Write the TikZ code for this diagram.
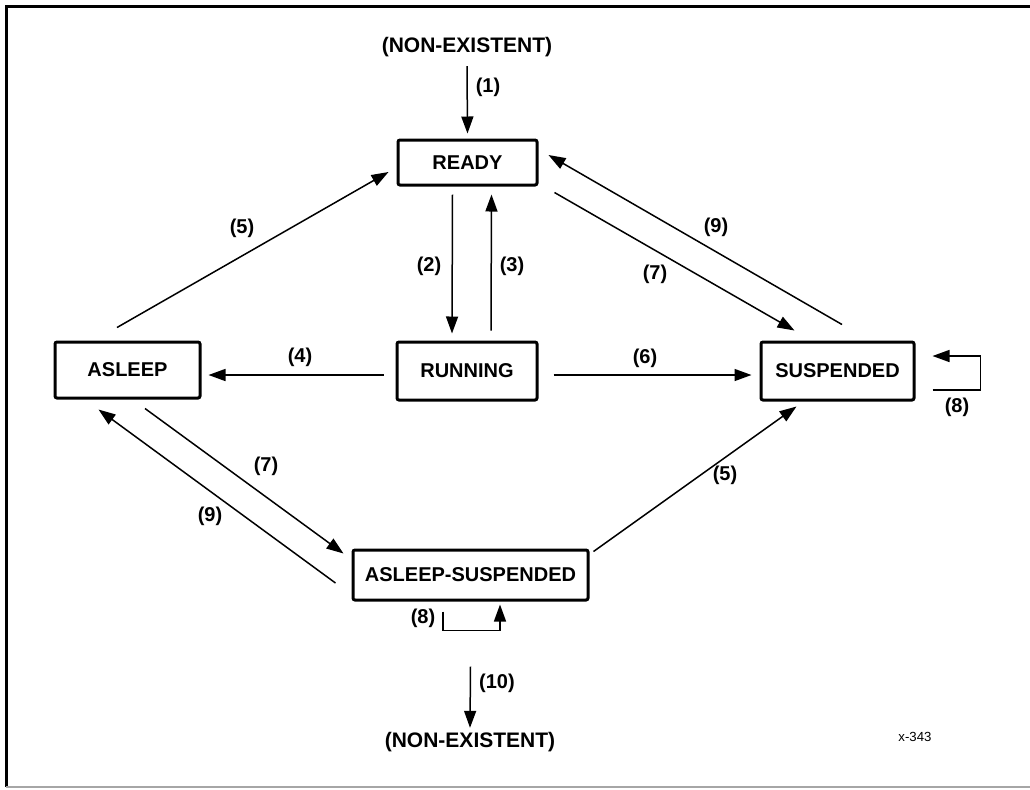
\documentclass[tikz,border=0pt]{standalone}
\usepackage{fontspec}
\setmainfont{Liberation Sans}
\usetikzlibrary{arrows.meta,positioning,calc}

\begin{document}
\begin{tikzpicture}[
    x=0.5pt, y=0.5pt,
    statebox/.style={draw=black, line width=1.5pt, rounded corners=1pt, fill=white, inner sep=0pt, font=\fontsize{10}{12}\selectfont\bfseries},
    lbl/.style={inner sep=1pt, font=\fontsize{10}{12}\selectfont\bfseries},
    endtxt/.style={inner sep=2pt, font=\fontsize{10.5}{12}\selectfont\bfseries},
    arr/.style={line width=0.75pt, -{Triangle[length=8.5pt, width=6pt]}}
]

  % Fundo e moldura
  \useasboundingbox (0,0) rectangle (1030,-789);
  \draw[line width=1.5pt] (1030,-6) -- (6,-6) -- (6,-787);
  \draw[line width=0.8pt, gray!70] (6,-787) -- (1030,-787);

  % =========================================================================
  % ESTADOS
  % =========================================================================
  \node[endtxt] (ne_top) at (467,-47) {(NON-EXISTENT)};
  \node[statebox, minimum width=69.5pt, minimum height=22.5pt] (st_ready) at (467.5,-162.5) {READY};
  \node[statebox, minimum width=70pt, minimum height=29pt] (st_run) at (467,-371) {RUNNING};
  \node[statebox, minimum width=72.5pt, minimum height=28pt] (st_sleep) at (127.5,-370) {ASLEEP};
  \node[statebox, minimum width=76.5pt, minimum height=29pt] (st_susp) at (837.5,-371) {SUSPENDED};
  \node[statebox, minimum width=117.5pt, minimum height=25pt] (st_slsusp) at (470.5,-575) {ASLEEP-SUSPENDED};
  \node[endtxt] (ne_bot) at (470,-742) {(NON-EXISTENT)};
  \node[inner sep=0pt, font=\fontsize{6.6}{8}\selectfont] (fig_id) at (915,-737) {x-343};

  % =========================================================================
  % TRANSICOES
  % =========================================================================
  \draw[arr] ($(ne_top.south)+(0,-5)$) -- ($(st_ready.north)+(0,5)$);
  \draw[arr] ($(st_ready.south)+(-15,-8)$) -- ($(st_run.north)+(-15,7)$);
  \draw[arr] ($(st_run.north)+(24,10)$) -- ($(st_ready.south)+(24,-8)$);
  \draw[arr] ($(st_run.west)+(-12,-4)$) -- ($(st_sleep.east)+(7,-5)$);
  \draw[arr] ($(st_run.east)+(15,-4)$) -- ($(st_susp.west)+(-8,-4)$);
  \draw[arr] ($(st_sleep.north)+(-10.5,13)$) -- ($(st_ready.west)+(-8,-9.5)$);
  \draw[arr] ($(st_susp.north)+(4.5,16)$) -- ($(st_ready.east)+(10,7.5)$);
  \draw[arr] ($(st_ready.south east)+(16,-6)$) -- ($(st_susp.north west)+(35,10)$);
  \draw[arr] ($(st_susp.east)+(17,-19)$) -| ($(st_susp.east)+(65,15)$) -- ($(st_susp.east)+(17,15)$);
  \draw[arr] ($(st_sleep.south)+(17.5,-9)$) -- ($(st_slsusp.north west)+(-8,-5)$);
  \draw[arr] ($(st_slsusp.west)+(-16,-8)$) -- ($(st_sleep.south west)+(45,-10)$);
  \draw[arr] ($(st_slsusp.north east)+(4,-3)$) -- ($(st_susp.south west)+(37,-5)$);
  \draw[arr] ($(st_slsusp.south)+(-27.5,-10)$) |- ($(st_slsusp.south)+(29.5,-29)$) -- ($(st_slsusp.south)+(29.5,-3)$);
  \draw[arr] ($(st_slsusp.south)+(0,-65)$) -- (ne_bot.north);

  % Rotulos
  \node[lbl] (l1) at (488,-87) {(1)};
  \node[lbl] (l2) at (429,-266) {(2)};
  \node[lbl] (l3) at (512,-266) {(3)};
  \node[lbl] (l4) at (300,-357) {(4)};
  \node[lbl] (l5a) at (242,-228) {(5)};
  \node[lbl] (l6) at (645,-358) {(6)};
  \node[lbl] (l7a) at (655,-274) {(7)};
  \node[lbl] (l8a) at (957,-407) {(8)};
  \node[lbl] (l9a) at (716,-227) {(9)};
  \node[lbl] (l7b) at (266,-466) {(7)};
  \node[lbl] (l9b) at (210,-516) {(9)};
  \node[lbl] (l5b) at (725,-475) {(5)};
  \node[lbl] (l8b) at (423,-618) {(8)};
  \node[lbl] (l10) at (497,-683) {(10)};

\end{tikzpicture}
\end{document}
